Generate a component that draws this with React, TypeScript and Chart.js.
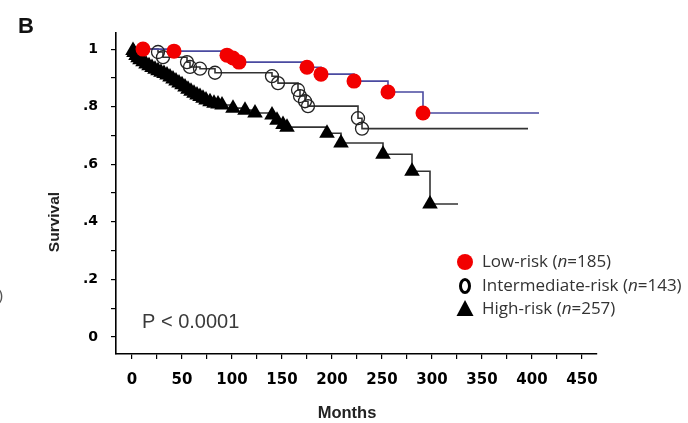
import React, { useEffect, useRef } from 'react';
import { Chart, registerables } from 'chart.js';
Chart.register(...registerables);

// ---- Data (months, survival) ----
const lowLineMonths = [0, 42, 95, 101, 107, 175, 189, 222, 256, 291, 407];
const lowLineSurv = [1.0, 0.993, 0.979, 0.969, 0.955, 0.937, 0.913, 0.889, 0.851, 0.778, 0.778];
const lowMarkMonths = [11, 42, 95, 101, 107, 175, 189, 222, 256, 291];
const lowMarkSurv = [1.0, 0.993, 0.979, 0.969, 0.955, 0.937, 0.913, 0.889, 0.851, 0.778];

const intLineMonths = [0, 26, 31, 55, 58, 68, 83, 140, 146, 166, 168, 173, 176, 226, 230, 396];
const intLineSurv = [1.0, 0.99, 0.972, 0.955, 0.938, 0.932, 0.918, 0.906, 0.882, 0.858, 0.837, 0.819, 0.802, 0.76, 0.724, 0.724];
const intMarkMonths = [26, 31, 55, 58, 68, 83, 140, 146, 166, 168, 173, 176, 226, 230];
const intMarkSurv = [0.99, 0.972, 0.955, 0.938, 0.932, 0.918, 0.906, 0.882, 0.858, 0.837, 0.819, 0.802, 0.76, 0.724];

const hiLineMonths = [0, 2, 4, 6, 8, 11, 14, 17, 20, 23, 26, 29, 32, 35, 38, 41, 44, 47, 50, 53, 56, 59, 62, 65, 68, 71, 74, 78, 82, 86, 90, 101, 113, 123, 140, 145, 151, 155, 195, 209, 251, 280, 298, 326];
const hiLineSurv = [1.0, 0.988, 0.978, 0.97, 0.963, 0.956, 0.948, 0.942, 0.936, 0.93, 0.925, 0.92, 0.915, 0.91, 0.903, 0.896, 0.889, 0.882, 0.876, 0.868, 0.861, 0.854, 0.847, 0.841, 0.835, 0.829, 0.823, 0.817, 0.812, 0.809, 0.806, 0.795, 0.788, 0.778, 0.771, 0.753, 0.738, 0.729, 0.708, 0.674, 0.635, 0.576, 0.462, 0.462];
const hiMarkMonths = [1, 2, 4, 6, 8, 11, 14, 17, 20, 23, 26, 29, 32, 35, 38, 41, 44, 47, 50, 53, 56, 59, 62, 65, 68, 71, 74, 78, 82, 86, 90, 101, 113, 123, 140, 145, 151, 155, 195, 209, 251, 280, 298];
const hiMarkSurv = [0.995, 0.988, 0.978, 0.97, 0.963, 0.956, 0.948, 0.942, 0.936, 0.93, 0.925, 0.92, 0.915, 0.91, 0.903, 0.896, 0.889, 0.882, 0.876, 0.868, 0.861, 0.854, 0.847, 0.841, 0.835, 0.829, 0.823, 0.817, 0.812, 0.809, 0.806, 0.795, 0.788, 0.778, 0.771, 0.753, 0.738, 0.729, 0.708, 0.674, 0.635, 0.576, 0.462];

const xTickValues = [0, 25, 50, 75, 100, 125, 150, 175, 200, 225, 250, 275, 300, 325, 350, 375, 400, 425, 450];
const xTickLabels = ['0', '', '50', '', '100', '', '150', '', '200', '', '250', '', '300', '', '350', '', '400', '', '450'];
const yTickValues = [0, 0.1, 0.2, 0.3, 0.4, 0.5, 0.6, 0.7, 0.8, 0.9, 1.0];
const yTickLabels = ['0', '', '.2', '', '.4', '', '.6', '', '.8', '', '1'];

const legendLabels = [
  ['Low-risk (', 'n', '=185)'],
  ['Intermediate-risk (', 'n', '=143)'],
  ['High-risk (', 'n', '=257)'],
];
const pValueText = 'P < 0.0001';

const pts = (xs: number[], ys: number[]) => xs.map((x, i) => ({ x, y: ys[i] }));

const annotPlugin = {
  id: 'annot',
  afterDraw(chart: any) {
    const ctx = chart.ctx as CanvasRenderingContext2D;
    ctx.save();
    // Panel letter
    ctx.fillStyle = '#111';
    ctx.font = 'bold 22px "Liberation Sans"';
    ctx.textAlign = 'left';
    ctx.textBaseline = 'alphabetic';
    ctx.fillText('B', 18, 33);
    // fragment from neighbouring panel
    ctx.fillStyle = '#555';
    ctx.font = '16px "Liberation Sans"';
    ctx.textBaseline = 'middle';
    ctx.fillText(')', -2, 297);
    // Axis titles
    ctx.fillStyle = '#222';
    ctx.font = 'bold 16.5px "Liberation Sans"';
    ctx.textAlign = 'center';
    ctx.fillText('Months', 347, 413);
    ctx.save();
    ctx.translate(55, 222);
    ctx.rotate(-Math.PI / 2);
    ctx.font = 'bold 15.5px "Liberation Sans"';
    ctx.fillText('Survival', 0, 0);
    ctx.restore();
    // P value
    ctx.fillStyle = '#3a3a3a';
    ctx.font = '20px "Liberation Sans"';
    ctx.textAlign = 'left';
    ctx.textBaseline = 'alphabetic';
    ctx.fillText(pValueText, 142, 328);
    // Legend
    const rowY = [262, 286, 309];
    const mx = 465;
    ctx.fillStyle = '#f20000';
    ctx.beginPath();
    ctx.arc(mx, rowY[0], 8, 0, Math.PI * 2);
    ctx.fill();
    ctx.strokeStyle = '#000';
    ctx.lineWidth = 3;
    ctx.beginPath();
    ctx.ellipse(mx, rowY[1], 4.5, 6.5, 0, 0, Math.PI * 2);
    ctx.stroke();
    ctx.fillStyle = '#000';
    ctx.beginPath();
    ctx.moveTo(mx, rowY[2] - 9);
    ctx.lineTo(mx + 8.5, rowY[2] + 7);
    ctx.lineTo(mx - 8.5, rowY[2] + 7);
    ctx.closePath();
    ctx.fill();
    ctx.fillStyle = '#333';
    ctx.textBaseline = 'middle';
    legendLabels.forEach((parts, i) => {
      let x = 482;
      parts.forEach((p, j) => {
        ctx.font = (j === 1 ? 'italic ' : '') + '17px "Open Sans"';
        ctx.fillText(p, x, rowY[i]);
        x += ctx.measureText(p).width;
      });
    });
    ctx.restore();
  },
};

export default function App() {
  const ref = useRef<HTMLCanvasElement>(null);
  useEffect(() => {
    const tickFont = { family: '"DejaVu Sans"', weight: 'bold' as const, size: 15 };
    const chart = new Chart(ref.current!, {
      type: 'scatter',
      data: {
        datasets: [
          {
            label: 'Low-risk markers',
            data: pts(lowMarkMonths, lowMarkSurv),
            pointStyle: 'circle',
            pointRadius: 7.5,
            pointBackgroundColor: '#f20000',
            pointBorderColor: '#f20000',
            pointBorderWidth: 0,
            showLine: false,
            order: 0,
          },
          {
            label: 'Intermediate markers',
            data: pts(intMarkMonths, intMarkSurv),
            pointStyle: 'circle',
            pointRadius: 6.5,
            pointBackgroundColor: 'rgba(0,0,0,0)',
            pointBorderColor: '#222',
            pointBorderWidth: 1.3,
            showLine: false,
            order: 1,
          },
          {
            label: 'High markers',
            data: pts(hiMarkMonths, hiMarkSurv),
            pointStyle: 'triangle',
            pointRadius: 9,
            pointBackgroundColor: '#000',
            pointBorderColor: '#000',
            pointBorderWidth: 0,
            showLine: false,
            order: 2,
          },
          {
            type: 'line',
            label: 'Low-risk',
            data: pts(lowLineMonths, lowLineSurv),
            stepped: true,
            borderColor: '#4a4aa0',
            borderWidth: 1.6,
            pointRadius: 0,
            showLine: true,
            fill: false,
            order: 3,
          } as any,
          {
            type: 'line',
            label: 'Intermediate-risk',
            data: pts(intLineMonths, intLineSurv),
            stepped: true,
            borderColor: '#333',
            borderWidth: 1.6,
            pointRadius: 0,
            showLine: true,
            fill: false,
            order: 4,
          } as any,
          {
            type: 'line',
            label: 'High-risk',
            data: pts(hiLineMonths, hiLineSurv),
            stepped: true,
            borderColor: '#333',
            borderWidth: 1.6,
            pointRadius: 0,
            showLine: true,
            fill: false,
            order: 5,
          } as any,
        ],
      },
      options: {
        responsive: false,
        animation: false,
        devicePixelRatio: 1,
        layout: { padding: { left: 40, right: 91, top: 33, bottom: 20 } },
        plugins: { legend: { display: false }, tooltip: { enabled: false } },
        scales: {
          x: {
            type: 'linear',
            min: -16,
            max: 465,
            afterBuildTicks: (s: any) => {
              s.ticks = xTickValues.map((v) => ({ value: v }));
            },
            afterFit: (s: any) => {
              s.height = 49;
            },
            ticks: {
              autoSkip: false,
              maxRotation: 0,
              padding: 12,
              color: '#000',
              font: tickFont,
              callback: (_v: any, i: number) => xTickLabels[i],
            },
            grid: { drawOnChartArea: false, drawTicks: true, tickLength: 5, color: '#000', lineWidth: 1.2 },
            border: { display: true, color: '#000', width: 1.6 },
          },
          y: {
            type: 'linear',
            min: -0.059,
            max: 1.056,
            afterBuildTicks: (s: any) => {
              s.ticks = yTickValues.map((v) => ({ value: v }));
            },
            afterFit: (s: any) => {
              s.width = 76;
            },
            ticks: {
              autoSkip: false,
              padding: 13,
              color: '#000',
              font: { family: '"DejaVu Sans"', weight: 'bold' as const, size: 14 },
              callback: (_v: any, i: number) => yTickLabels[i],
            },
            grid: { drawOnChartArea: false, drawTicks: true, tickLength: 5, color: '#000', lineWidth: 1.2 },
            border: { display: true, color: '#000', width: 1.6 },
          },
        },
      },
      plugins: [annotPlugin],
    });
    return () => chart.destroy();
  }, []);
  return (
    <div style={{ position: 'absolute', left: 0, top: 0, width: 688, height: 423, background: '#fff' }}>
      <canvas ref={ref} width={688} height={423} style={{ display: 'block' }} />
    </div>
  );
}
